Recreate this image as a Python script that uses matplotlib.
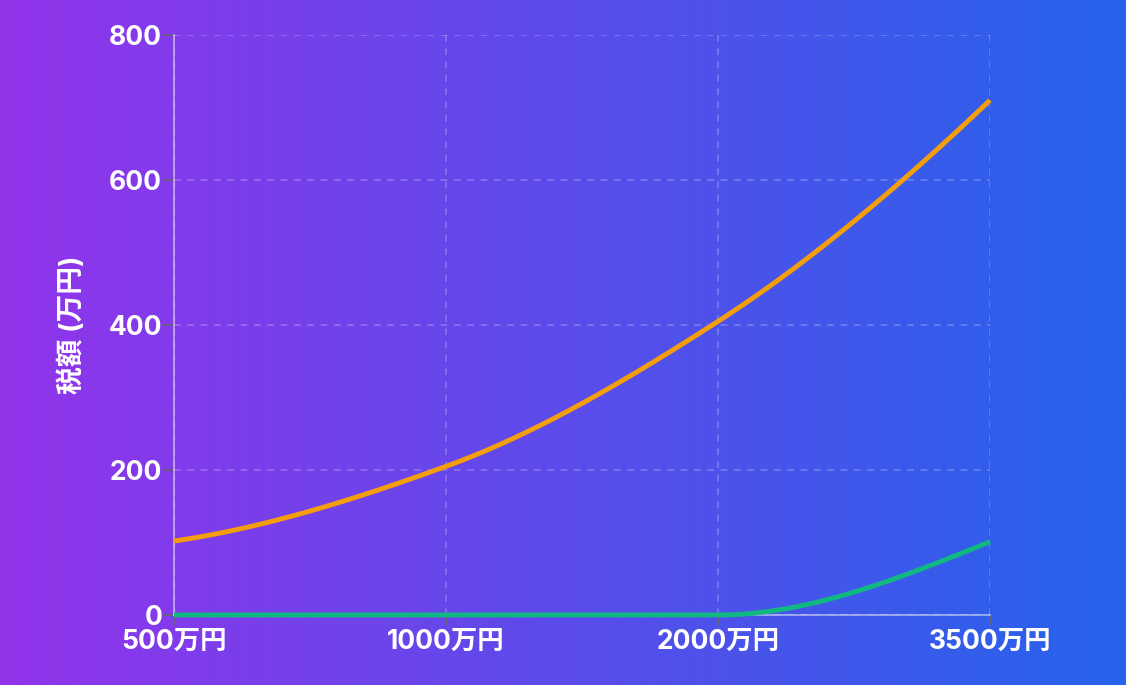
import numpy as np
import matplotlib
matplotlib.use("Agg")
import matplotlib.pyplot as plt
from matplotlib.colors import LinearSegmentedColormap

categories = ["500万円", "1000万円", "2000万円", "3500万円"]
orange_vals = [102, 205, 405, 710]
green_vals = [0, 0, 0, 101]
y_ticks = [0, 200, 400, 600, 800]
y_label = "税額 (万円)"

FONT = ["Inter", "Noto Sans CJK JP", "DejaVu Sans"]


def pchip(x, y, xs):
    x = np.asarray(x, float)
    y = np.asarray(y, float)
    h = np.diff(x)
    d = np.diff(y) / h
    n = len(x)
    m = np.zeros(n)
    for k in range(1, n - 1):
        if d[k - 1] * d[k] > 0:
            w1 = 2 * h[k] + h[k - 1]
            w2 = h[k] + 2 * h[k - 1]
            m[k] = (w1 + w2) / (w1 / d[k - 1] + w2 / d[k])
        else:
            m[k] = 0.0

    def end_slope(h0, h1, d0, d1):
        s = ((2 * h0 + h1) * d0 - h0 * d1) / (h0 + h1)
        if np.sign(s) != np.sign(d0):
            s = 0.0
        elif np.sign(d0) != np.sign(d1) and abs(s) > abs(3 * d0):
            s = 3 * d0
        return s

    m[0] = end_slope(h[0], h[1], d[0], d[1])
    m[-1] = end_slope(h[-1], h[-2], d[-1], d[-2])
    out = np.empty_like(xs, dtype=float)
    for i, xv in enumerate(xs):
        k = min(max(np.searchsorted(x, xv) - 1, 0), n - 2)
        t = (xv - x[k]) / h[k]
        h00 = 2 * t**3 - 3 * t**2 + 1
        h10 = t**3 - 2 * t**2 + t
        h01 = -2 * t**3 + 3 * t**2
        h11 = t**3 - t**2
        out[i] = h00 * y[k] + h10 * h[k] * m[k] + h01 * y[k + 1] + h11 * h[k] * m[k + 1]
    return out


fig = plt.figure(figsize=(11.26, 6.85), dpi=100)

# gradient background
bg = fig.add_axes([0, 0, 1, 1], zorder=0)
cmap = LinearSegmentedColormap.from_list("g", ["#9234EA", "#2563EB"])
grad = np.linspace(0, 1, 512).reshape(1, -1)
bg.imshow(grad, aspect="auto", cmap=cmap, extent=[0, 1, 0, 1])
bg.set_axis_off()

ax = fig.add_axes([174 / 1126, 70 / 685, 816 / 1126, 580 / 685], zorder=1)
ax.patch.set_alpha(0)

xi = np.arange(len(categories))
xs = np.linspace(0, len(categories) - 1, 400)
ax.plot(xs, pchip(xi, orange_vals, xs), color="#F59E0B", lw=3.5,
        solid_capstyle="butt", zorder=3, clip_on=False)
ax.plot(xs, np.clip(pchip(xi, green_vals, xs), 0, None), color="#10B981", lw=3.5,
        solid_capstyle="butt", zorder=3, clip_on=False)

ax.set_xlim(0, len(categories) - 1)
ax.set_ylim(0, 800)
ax.set_xticks(xi)
ax.set_xticklabels(categories)
ax.set_yticks(y_ticks)

ax.grid(True, color="white", alpha=0.25, linestyle=(0, (4, 4)), linewidth=1.2)
ax.set_axisbelow(True)

for s in ["top", "right"]:
    ax.spines[s].set_visible(False)
for s in ["left", "bottom"]:
    ax.spines[s].set_color((1, 1, 1, 0.55))
    ax.spines[s].set_linewidth(1.2)

ax.tick_params(axis="both", colors="#666666", length=7.5, width=1.2)
ax.tick_params(axis="x", pad=2.5)
ax.tick_params(axis="y", pad=1)
for lab in ax.get_xticklabels() + ax.get_yticklabels():
    lab.set_color("white")
    lab.set_fontfamily(FONT)
    lab.set_fontweight("bold")
    lab.set_fontsize(19)

ax.set_ylabel(y_label, color="white", fontsize=20, fontweight="bold", family=FONT, labelpad=16)

fig.savefig("out.png", dpi=100)
